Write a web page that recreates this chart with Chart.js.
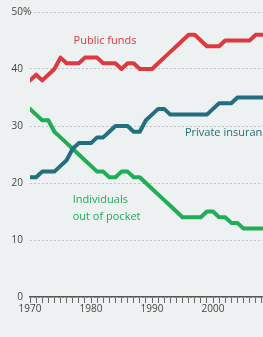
<!DOCTYPE html>
<html><head><meta charset="utf-8">
<script src="https://cdn.jsdelivr.net/npm/chart.js@4"></script>
<style>
html,body{margin:0;padding:0;background:#eef1f1;overflow:hidden;width:263px;height:337px;}
#wrap{position:absolute;left:0;top:0;width:278px;height:337px;}
</style></head>
<body>
<div id="wrap"><canvas id="c" width="278" height="337"></canvas></div>
<script>
const years = [];
for (let y = 1970; y <= 2009; y++) years.push(y);
const publicFunds = [38,39,38,39,40,42,41,41,41,42,42,42,41,41,41,40,41,41,40,40,40,41,42,43,44,45,46,46,45,44,44,44,45,45,45,45,45,46,46,46];
const privateInsurance = [21,21,22,22,22,23,24,26,27,27,27,28,28,29,30,30,30,29,29,31,32,33,33,32,32,32,32,32,32,32,33,34,34,34,35,35,35,35,35,35];
const outOfPocket = [33,32,31,31,29,28,27,26,25,24,23,22,22,21,21,22,22,21,21,20,19,18,17,16,15,14,14,14,14,15,15,14,14,13,13,12,12,12,12,12];
const yTicks = [0,10,20,30,40,50];
const xLabels = [1970,1980,1990,2000];

const RED = '#dd3a3f', BLUE = '#226f80', GREEN = '#20ad55';
const FONT = '"Open Sans", "DejaVu Sans", sans-serif';

function pts(arr){ return arr.map((v,i)=>({x:years[i], y:v})); }

const labels = [
  {text:'Public funds', x:1982.3, y:45, color:RED, align:'center'},
  {text:'Private insurance', x:1995.4, y:28.8, color:BLUE, align:'left'},
  {text:'Individuals', x:1977, y:17, color:GREEN, align:'left'},
  {text:'out of pocket', x:1977, y:14, color:GREEN, align:'left'}
];

const overlay = {
  id:'overlay',
  afterDraw(chart){
    const ctx = chart.ctx, xs = chart.scales.x, ys = chart.scales.y;
    ctx.save();
    ctx.font = '10px ' + FONT;
    ctx.fillStyle = '#444';
    ctx.textBaseline = 'middle';
    yTicks.forEach(t=>{
      const py = ys.getPixelForValue(t);
      ctx.textAlign = 'right';
      ctx.fillText(String(t), 23, py);
      if (t === 50) { ctx.textAlign='left'; ctx.fillText('%', 23, py); }
    });
    ctx.font = '11px ' + FONT;
    labels.forEach(l=>{
      ctx.fillStyle = l.color;
      ctx.textAlign = l.align;
      ctx.fillText(l.text, xs.getPixelForValue(l.x), ys.getPixelForValue(l.y));
    });
    ctx.restore();
  }
};

new Chart(document.getElementById('c'), {
  type:'line',
  data:{datasets:[
    {label:'Public funds', data:pts(publicFunds), borderColor:RED},
    {label:'Private insurance', data:pts(privateInsurance), borderColor:BLUE},
    {label:'Individuals out of pocket', data:pts(outOfPocket), borderColor:GREEN}
  ]},
  options:{
    responsive:false, animation:false,
    layout:{padding:{top:12, right:4, bottom:22, left:0}},
    elements:{line:{borderWidth:4, tension:0, borderJoinStyle:'round', borderCapStyle:'round', fill:false}, point:{radius:0}},
    plugins:{legend:{display:false}, tooltip:{enabled:false}},
    scales:{
      x:{type:'linear', min:1970, max:2010,
        ticks:{stepSize:1, autoSkip:false, maxRotation:0, color:'#444', font:{family:FONT, size:10}, padding:0,
          callback:(v)=> xLabels.includes(v) ? String(v) : ''},
        grid:{drawOnChartArea:false, tickLength:6, tickColor:'#666', tickWidth:1},
        border:{color:'#555', width:1.5}
      },
      y:{min:0, max:50,
        ticks:{stepSize:10, display:false},
        afterFit(s){ s.width = 30; },
        grid:{color:'#bfc4c4', lineWidth:1, drawTicks:false, tickLength:0},
        border:{display:false, dash:[2,2]}
      }
    }
  },
  plugins:[overlay]
});
</script>
</body></html>
